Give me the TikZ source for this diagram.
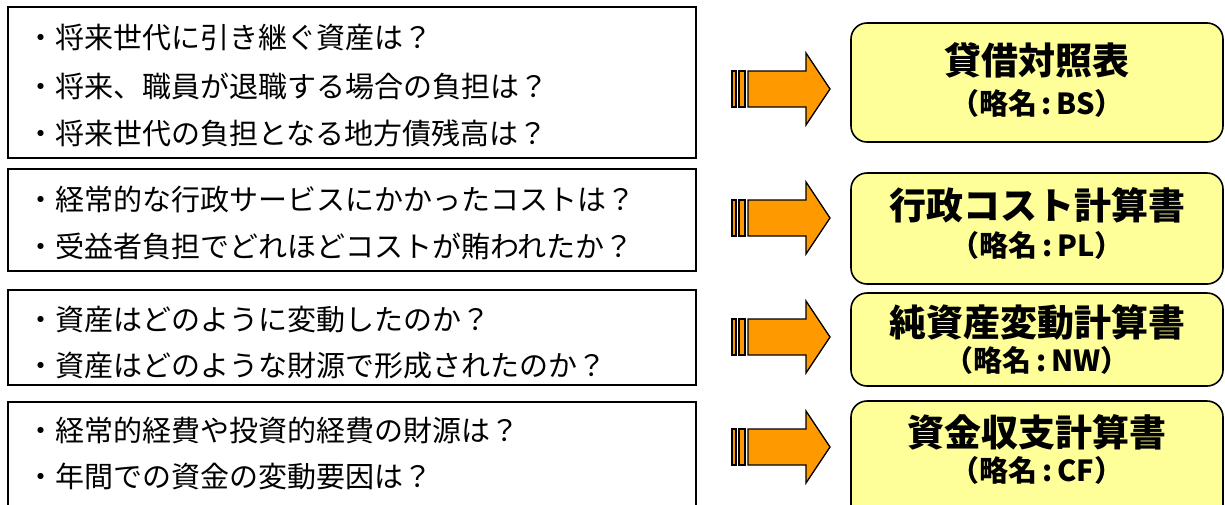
\documentclass[tikz,border=0pt]{standalone}
\usepackage{fontspec}
\newfontfamily\jp{Noto Sans CJK JP}
\definecolor{creme}{RGB}{255,255,153}
\definecolor{orangeF}{RGB}{255,153,0}
\tikzset{
  question/.style={draw=black,line width=1.6pt,fill=white},
  ligne/.style={anchor=west,inner sep=0pt,font=\jp\fontsize{29}{29}\selectfont},
  etat/.style={draw=black,line width=1.6pt,fill=creme,rounded corners=16pt},
  titre/.style={inner sep=0pt,font=\jp\bfseries\fontsize{37}{37}\selectfont},
  sigle/.style={inner sep=0pt,font=\jp\bfseries\fontsize{29}{29}\selectfont},
  fleche/.style={draw=black,line width=1.3pt,fill=orangeF,line join=miter}
}
\begin{document}
\begin{tikzpicture}[x=1pt,y=-1pt]
\useasboundingbox (0,0) rectangle (1225,504);
\clip (0,0) rectangle (1225,504);
% questions
\draw [question] (8,7) rectangle (696,158);
\draw [question] (8,169) rectangle (696,271);
\draw [question] (8,290) rectangle (696,385);
\draw [question] (8,402) rectangle (696,520);
\node[ligne] (q11) at (26,38) {・将来世代に引き継ぐ資産は？};
\node[ligne] (q12) at (26,86) {・将来、職員が退職する場合の負担は？};
\node[ligne] (q13) at (26,133) {・将来世代の負担となる地方債残高は？};
\node[ligne] (q21) at (26,199) {・経常的な行政サービスにかかったコストは？};
\node[ligne] (q22) at (26,246) {・受益者負担でどれほどコストが賄われたか？};
\node[ligne] (q31) at (26,320) {・資産はどのように変動したのか？};
\node[ligne] (q32) at (26,366) {・資産はどのような財源で形成されたのか？};
\node[ligne] (q41) at (26,430) {・経常的経費や投資的経費の財源は？};
\node[ligne] (q42) at (26,476) {・年間での資金の変動要因は？};
% fleches
\foreach \y in {89,218,337,447} {
  \draw [fleche] (732,\y-18) rectangle (736,\y+18);
  \draw [fleche] (739,\y-18) rectangle (745,\y+18);
  \draw [fleche] (748,\y-18) -- (806,\y-18) -- (806,\y-36) -- (830,\y) -- (806,\y+36) -- (806,\y+18) -- (748,\y+18) -- cycle;
}
% etats financiers
\draw [etat] (851,23) rectangle (1223,142);
\draw [etat] (851,173) rectangle (1223,284);
\draw [etat] (851,293) rectangle (1223,386);
\draw [etat] (851,401) rectangle (1223,540);
\node[titre] (bs) at (1037,60) {貸借対照表};
\node[sigle] (bsn) at (1037,103) {（略名\,:\,BS）};
\node[titre] (pl) at (1037,205) {行政コスト計算書};
\node[sigle] (pln) at (1037,245) {（略名\,:\,PL）};
\node[titre] (nw) at (1037,322) {純資産変動計算書};
\node[sigle] (nwn) at (1037,360) {（略名\,:\,NW）};
\node[titre] (cf) at (1037,432) {資金収支計算書};
\node[sigle] (cfn) at (1037,470) {（略名\,:\,CF）};
\end{tikzpicture}
\end{document}
